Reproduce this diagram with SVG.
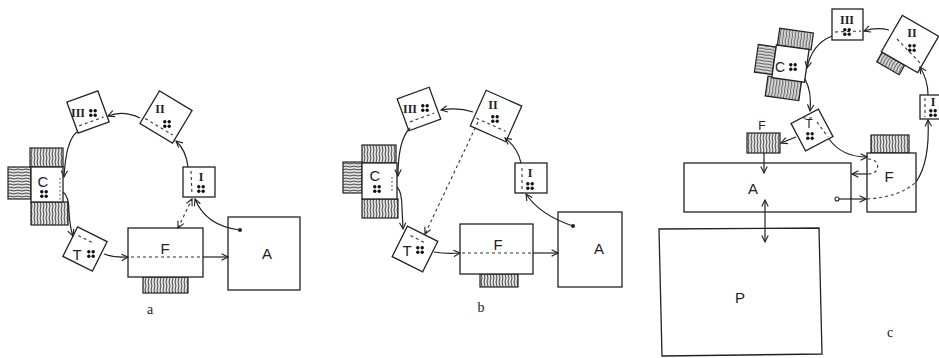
<svg xmlns="http://www.w3.org/2000/svg" width="939" height="358" viewBox="0 0 939 358">
<style>
.box{fill:#fff;stroke:#222;stroke-width:1.3}
.hv{fill:url(#hatchV);stroke:#222;stroke-width:1.2}
.hh{fill:url(#hatchH);stroke:#222;stroke-width:1.2}
.dash{fill:none;stroke:#333;stroke-width:1.1;stroke-dasharray:3 3}
.dot{fill:none;stroke:#444;stroke-width:1.1;stroke-dasharray:1.5 2.5}
.con{fill:none;stroke:#222;stroke-width:1.2}
.arr{marker-end:url(#ah)}
.dbl{marker-start:url(#ah);marker-end:url(#ah)}
.rom{font-family:"Liberation Serif",serif;font-weight:bold;font-size:12px;fill:#222;text-anchor:middle}
.lbl{font-family:"Liberation Sans",sans-serif;font-size:15px;fill:#222;text-anchor:middle}
.cap{font-family:"Liberation Serif",serif;font-size:14px;fill:#222;text-anchor:middle}
</style>
<defs>
<pattern id="hatchV" width="3" height="8" patternUnits="userSpaceOnUse">
<rect width="3" height="8" fill="#e4e4e4"/>
<path d="M1.5,0 Q0.5,2 1.5,4 Q2.5,6 1.5,8" fill="none" stroke="#333" stroke-width="0.9"/>
</pattern>
<pattern id="hatchH" width="8" height="3" patternUnits="userSpaceOnUse">
<rect width="8" height="3" fill="#e4e4e4"/>
<path d="M0,1.5 Q2,0.5 4,1.5 Q6,2.5 8,1.5" fill="none" stroke="#333" stroke-width="0.9"/>
</pattern>
<g id="dots" fill="#111">
<circle cx="-2.2" cy="-2.2" r="1.7"/><circle cx="2.2" cy="-2.2" r="1.7"/>
<circle cx="-2.2" cy="2.2" r="1.7"/><circle cx="2.2" cy="2.2" r="1.7"/>
</g>
<marker id="ah" viewBox="0 0 10 10" refX="9" refY="5" markerWidth="8" markerHeight="8" markerUnits="userSpaceOnUse" orient="auto-start-reverse">
<path d="M1,1 L9,5 L1,9" fill="none" stroke="#222" stroke-width="1.4"/>
</marker>
</defs>
<rect width="939" height="358" fill="#fff"/>

<!-- Panel a -->
<g id="a-III">
<rect class="box" x="-16.5" y="-16.5" width="33" height="33" transform="translate(88,112) rotate(-20)"/>
<line class="dash" x1="-13" y1="10" x2="13" y2="10" transform="translate(88,112) rotate(-20)"/>
<text class="rom" x="78" y="117">III</text>
<use href="#dots" x="93" y="113"/>
</g>
<g id="a-II">
<rect class="box" x="-19" y="-19" width="38" height="38" transform="translate(166,117) rotate(31)"/>
<line class="dash" x1="-17" y1="12" x2="15" y2="12" transform="translate(166,117) rotate(31)"/>
<text class="rom" x="160" y="113">II</text>
<use href="#dots" x="167" y="124"/>
</g>
<g id="a-I">
<rect class="box" x="183" y="167" width="32" height="30"/>
<line class="dash" x1="191" y1="171" x2="192" y2="195"/>
<text class="rom" x="201" y="181">I</text>
<use href="#dots" x="201" y="189"/>
</g>
<g id="a-C">
<rect class="hv" x="30" y="148" width="33" height="19"/>
<rect class="hh" x="8" y="167" width="23" height="32"/>
<rect class="hv" x="31" y="202" width="37" height="23"/>
<rect class="box" x="31" y="167" width="32" height="35"/>
<line class="dot" x1="60" y1="178" x2="60" y2="200"/>
<text class="lbl" x="43" y="187">C</text>
<use href="#dots" x="44" y="194"/>
</g>
<g id="a-T">
<rect class="box" x="-16.5" y="-16.5" width="33" height="33" transform="translate(85,249) rotate(26.5)"/>
<line class="dash" x1="-12" y1="-9" x2="4" y2="-9" transform="translate(85,249) rotate(26.5)"/>
<text class="lbl" x="77" y="260">T</text>
<use href="#dots" x="91" y="254"/>
</g>
<g id="a-F">
<rect class="hv" x="143" y="277" width="45" height="16"/>
<rect class="box" x="128" y="228" width="75" height="49"/>
<text class="lbl" x="165" y="254">F</text>
</g>
<g id="a-A">
<rect class="box" x="228" y="217" width="72" height="73"/>
<text class="lbl" x="267" y="259">A</text>
<circle cx="240" cy="230" r="2" fill="#222"/>
</g>
<text class="cap" x="150" y="314">a</text>

<!-- Panel b -->
<g id="b-III">
<rect class="box" x="-17" y="-17" width="34" height="34" transform="translate(419,109) rotate(-20)"/>
<line class="dash" x1="-13" y1="9" x2="13" y2="9" transform="translate(419,109) rotate(-20)"/>
<text class="rom" x="410" y="113">III</text>
<use href="#dots" x="425" y="108"/>
</g>
<g id="b-II">
<rect class="box" x="-19.5" y="-19.5" width="39" height="39" transform="translate(496,116) rotate(24)"/>
<line class="dash" x1="-17" y1="10" x2="15" y2="10" transform="translate(496,116) rotate(24)"/>
<text class="rom" x="493" y="109">II</text>
<use href="#dots" x="495" y="119"/>
</g>
<g id="b-I">
<rect class="box" x="515" y="163" width="32" height="30"/>
<line class="dash" x1="522" y1="168" x2="522" y2="193"/>
<text class="rom" x="530" y="177">I</text>
<use href="#dots" x="530" y="186"/>
</g>
<g id="b-C">
<rect class="hv" x="362" y="145" width="34" height="18"/>
<rect class="hh" x="343" y="162" width="19" height="31"/>
<rect class="hv" x="362" y="199" width="36" height="19"/>
<rect class="box" x="362" y="163" width="35" height="36"/>
<line class="dot" x1="392" y1="177" x2="392" y2="193"/>
<text class="lbl" x="375" y="181">C</text>
<use href="#dots" x="377" y="189"/>
</g>
<g id="b-T">
<rect class="box" x="-17" y="-17" width="34" height="34" transform="translate(415,249) rotate(26.5)"/>
<line class="dash" x1="-10" y1="-10" x2="8" y2="-10" transform="translate(415,249) rotate(26.5)"/>
<text class="lbl" x="407" y="256">T</text>
<use href="#dots" x="420" y="250"/>
</g>
<g id="b-F">
<rect class="hv" x="480" y="274" width="38" height="13"/>
<rect class="box" x="460" y="224" width="73" height="50"/>
<text class="lbl" x="498" y="250">F</text>
</g>
<g id="b-A">
<rect class="box" x="558" y="212" width="64" height="75"/>
<text class="lbl" x="599" y="254">A</text>
<circle cx="573" cy="226" r="2" fill="#222"/>
</g>
<text class="cap" x="481" y="312">b</text>

<!-- Panel c -->
<g id="c-III">
<rect class="box" x="832" y="9" width="31" height="31"/>
<line class="dash" x1="835" y1="32" x2="861" y2="31"/>
<text class="rom" x="847" y="24">III</text>
<use href="#dots" x="847" y="32"/>
</g>
<g id="c-II">
<rect class="hv" x="-20" y="21" width="26" height="11" transform="translate(910,44) rotate(30)"/>
<rect class="box" x="-21" y="-21" width="42" height="42" transform="translate(910,44) rotate(30)"/>
<line class="dash" x1="897" y1="39" x2="922" y2="65"/>
<text class="rom" x="912" y="37">II</text>
<use href="#dots" x="912" y="48"/>
</g>
<g id="c-I">
<rect class="box" x="920" y="95" width="26" height="24"/>
<line class="dash" x1="925" y1="98" x2="925" y2="117"/>
<text class="rom" x="933" y="106">I</text>
<use href="#dots" x="933" y="113"/>
</g>
<g id="c-C">
<g transform="translate(790,63) rotate(8)">
<rect class="hv" x="-15" y="-33" width="34" height="17"/>
<rect class="hh" x="-34" y="-14" width="18" height="28"/>
<rect class="hv" x="-20" y="16" width="34" height="20"/>
<rect class="box" x="-16" y="-16" width="33" height="33"/>
</g>
<text class="lbl" x="780" y="72" style="font-size:14px">C</text>
<use href="#dots" x="793" y="67"/>
</g>
<g id="c-T">
<rect class="box" x="-15.5" y="-15.5" width="31" height="31" transform="translate(812,130) rotate(-28)"/>
<line class="dash" x1="817" y1="122" x2="828" y2="137"/>
<line class="dash" x1="803" y1="118" x2="814" y2="118"/>
<text class="lbl" x="809" y="128" style="font-size:12px">T</text>
<use href="#dots" x="810" y="136"/>
</g>
<g id="c-Fs">
<rect class="hv" x="747" y="133" width="33" height="20"/>
<text class="lbl" x="762" y="130" style="font-size:12px">F</text>
</g>
<g id="c-A">
<rect class="box" x="684" y="163" width="167" height="49"/>
<text class="lbl" x="753" y="194">A</text>
</g>
<g id="c-F">
<rect class="hv" x="871" y="135" width="38" height="18"/>
<rect class="box" x="867" y="153" width="49" height="59"/>
<text class="lbl" x="889" y="182">F</text>
</g>
<g id="c-P">
<polygon class="box" points="659,229 819,228 822,354 662,356"/>
<text class="lbl" x="740" y="303">P</text>
</g>
<text class="cap" x="890" y="337">c</text>

<!-- Connectors -->
<g id="connectors">
<path class="con arr" d="M240,230 Q206,226 195,199"/>
<path class="dash dbl" d="M178,228 L192,199"/>
<path class="con arr" d="M188,167 Q186,150 176,141"/>
<path class="con arr" d="M140,118 Q123,110 108,116"/>
<path class="con arr" d="M77,132 Q66,140 64,177"/>
<path class="con arr" d="M63,192 Q69,196 69,212 Q70,228 73,236"/>
<path class="con arr" d="M104,254 Q115,258 128,257"/>
<path class="con arr" d="M203,257 L228,257"/>
<path class="dash" d="M131,257 L201,257"/>

<path class="con arr" d="M573,226 Q540,215 526,194"/>
<path class="con arr" d="M521,163 Q518,148 505,138"/>
<path class="con arr" d="M473,112 Q458,107 441,110"/>
<path class="con arr" d="M410,128 Q398,140 398,176"/>
<path class="con arr" d="M397,187 Q402,192 402,208 L403,229"/>
<path class="con arr" d="M434,252 Q445,254 460,253"/>
<path class="con arr" d="M533,253 L558,253"/>
<path class="dash" d="M462,253 L531,253"/>
<path class="dash arr" d="M478,122 L425,234"/>

<path class="con arr" d="M889,30 Q876,27 864,31"/>
<path class="con arr" d="M832,36 Q812,44 807,68"/>
<path class="con arr" d="M805,79 Q812,92 810,111"/>
<path class="con arr" d="M796,137 L781,143"/>
<path class="con arr" d="M764,153 L764,173"/>
<path class="con arr" d="M829,139 Q842,157 867,157"/>
<path class="dash" d="M868,159 C881,159 881,174 868,174"/>
<path class="con arr" d="M868,174 L852,174"/>
<circle cx="837" cy="199" r="2" fill="#fff" stroke="#222" stroke-width="1.1"/>
<path class="con arr" d="M839,199 L866,199"/>
<path class="dash" d="M867,199 Q900,197 916,182"/>
<path class="con arr" d="M916,182 Q930,162 928,120"/>
<path class="con arr" d="M928,95 Q928,80 920,67"/>
<path class="con dbl" d="M765,200 L765,242"/>
</g>
</svg>
